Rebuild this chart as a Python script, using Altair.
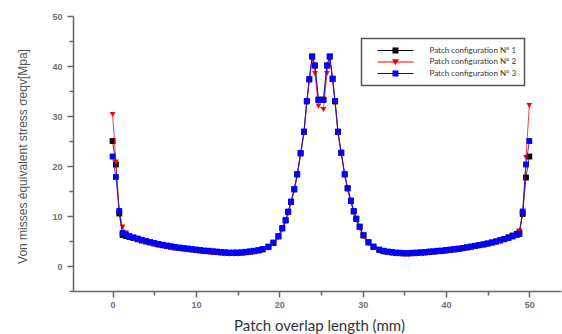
import altair as alt
import pandas as pd

X = [0.0, 0.4, 0.8, 1.2, 1.6, 2.0, 2.5, 3.0, 3.5, 4.0, 4.5, 5.0, 5.5, 6.0, 6.5, 7.0, 7.5, 8.0, 8.5, 9.0,
     9.5, 10.0, 10.5, 11.0, 11.5, 12.0, 12.5, 13.0, 13.5, 14.0, 14.5, 15.0, 15.5, 16.0, 16.5, 17.0, 17.5, 18.0,
     18.7, 19.3, 19.9, 20.36, 20.76, 21.07, 21.4, 21.8, 22.15, 22.56, 22.96, 23.3, 23.6, 23.95, 24.28, 24.7,
     25.3, 25.72, 26.05, 26.4, 26.7, 27.04, 27.44, 27.85, 28.2, 28.6, 28.93, 29.24, 29.64, 30.1, 30.7, 31.3,
     32.0, 32.5, 33.0, 33.5, 34.0, 34.5, 35.0, 35.5, 36.0, 36.5, 37.0, 37.5, 38.0, 38.5, 39.0, 39.5, 40.0,
     40.5, 41.0, 41.5, 42.0, 42.5, 43.0, 43.5, 44.0, 44.5, 45.0, 45.5, 46.0, 46.5, 47.0, 47.5, 48.0, 48.5,
     48.8, 49.2, 49.6, 50.0]

S1 = [25.0, 20.3, 10.5, 6.2, 6.0, 5.8, 5.6, 5.35, 5.1, 4.9, 4.7, 4.5, 4.3, 4.15, 4.0, 3.85, 3.7, 3.6, 3.5, 3.4,
      3.3, 3.2, 3.1, 3.0, 2.95, 2.85, 2.8, 2.7, 2.65, 2.6, 2.6, 2.6, 2.65, 2.75, 2.85, 2.95, 3.1, 3.3,
      3.8, 4.6, 5.9, 7.5, 9.1, 10.8, 12.8, 15.3, 18.3, 22.5, 26.8, 32.9, 37.3, 41.9, 40.1, 33.3,
      33.3, 40.1, 41.9, 37.4, 32.9, 26.8, 22.6, 18.3, 15.5, 13.0, 10.9, 9.4, 7.8, 6.1, 4.7, 3.8,
      3.2, 2.95, 2.8, 2.7, 2.6, 2.55, 2.5, 2.5, 2.55, 2.6, 2.65, 2.7, 2.8, 2.85, 2.95, 3.0, 3.1,
      3.2, 3.3, 3.4, 3.55, 3.7, 3.85, 4.0, 4.15, 4.3, 4.5, 4.7, 4.9, 5.15, 5.4, 5.75, 6.1, 6.4,
      6.7, 10.4, 17.7, 21.9]

S2 = [30.3, 20.8, 10.8, 7.8, 6.6, 6.0, 5.4, 5.1, 4.85, 4.65, 4.45, 4.25, 4.05, 3.9, 3.75, 3.6, 3.45, 3.35, 3.25, 3.15,
      3.05, 2.95, 2.85, 2.75, 2.7, 2.6, 2.55, 2.45, 2.4, 2.35, 2.35, 2.35, 2.4, 2.5, 2.6, 2.7, 2.85, 3.05,
      3.55, 4.35, 5.6, 7.2, 8.8, 10.5, 12.5, 15.0, 18.0, 22.2, 26.5, 32.5, 37.0, 41.5, 38.5, 32.0,
      31.3, 38.5, 41.5, 37.0, 32.5, 26.5, 22.3, 18.0, 15.2, 12.7, 10.6, 9.1, 7.5, 5.8, 4.45, 3.55,
      2.95, 2.7, 2.55, 2.45, 2.35, 2.3, 2.25, 2.25, 2.3, 2.35, 2.4, 2.45, 2.55, 2.6, 2.7, 2.75, 2.85,
      2.95, 3.05, 3.15, 3.3, 3.45, 3.6, 3.75, 3.9, 4.05, 4.25, 4.45, 4.65, 4.9, 5.2, 5.55, 5.9, 6.3,
      7.0, 10.5, 21.7, 32.1]

S3 = [21.9, 17.8, 11.0, 6.6, 6.3, 6.0, 5.75, 5.5, 5.25, 5.0, 4.8, 4.6, 4.4, 4.25, 4.1, 3.95, 3.8, 3.7, 3.6, 3.5,
      3.4, 3.3, 3.2, 3.1, 3.05, 2.95, 2.9, 2.8, 2.75, 2.7, 2.7, 2.7, 2.75, 2.85, 2.95, 3.05, 3.2, 3.4,
      3.9, 4.7, 6.0, 7.6, 9.2, 10.9, 12.9, 15.4, 18.4, 22.6, 26.9, 33.0, 37.4, 41.9, 40.1, 33.2,
      33.2, 40.1, 41.9, 37.5, 33.0, 26.9, 22.7, 18.4, 15.6, 13.1, 11.0, 9.5, 7.9, 6.2, 4.8, 3.9,
      3.3, 3.05, 2.9, 2.8, 2.7, 2.65, 2.6, 2.6, 2.65, 2.7, 2.75, 2.8, 2.9, 2.95, 3.05, 3.1, 3.2,
      3.3, 3.4, 3.5, 3.6, 3.75, 3.9, 4.05, 4.2, 4.35, 4.5, 4.7, 4.9, 5.1, 5.35, 5.6, 5.9, 6.2,
      6.4, 10.9, 20.3, 25.0]

LABELS = ["Patch configuration N° 1", "Patch configuration N° 2", "Patch configuration N° 3"]
MARKER_KEYS = ["m1", "m2", "m3"]
COLORS = ["#000000", "#ff0000", "#0000ff"]
SHAPES = ["square", "triangle-down", "square"]
X_TICKS = [0, 5, 10, 15, 20, 25, 30, 35, 40, 45, 50]
Y_TICKS = [-5, 0, 5, 10, 15, 20, 25, 30, 35, 40, 45, 50]

rows = []
for lab, mk, ys in zip(LABELS, MARKER_KEYS, [S1, S2, S3]):
    for i, (xv, yv) in enumerate(zip(X, ys)):
        rows.append({"series": lab, "marker": mk, "x": xv, "y": yv, "i": i})
df = pd.DataFrame(rows)

major10 = "datum.value % 10 === 0"

xenc = alt.X(
    "x:Q",
    scale=alt.Scale(domain=[-4.75, 53.8], nice=False, zero=False),
    axis=alt.Axis(
        values=X_TICKS,
        labelExpr=f"{major10} ? datum.label : ''",
        tickSize={"condition": {"test": major10, "value": 6}, "value": 4},
        grid=False,
        domainColor="#666666", domainWidth=1.5,
        tickColor="#666666", tickWidth=1.5,
        labelFont="Liberation Sans", labelFontSize=9, labelFontWeight="bold",
        labelColor="#707070", labelPadding=3,
        title="Patch overlap length (mm)",
        titleFont="Lato", titleFontSize=15, titleFontWeight="normal",
        titleColor="#333333", titleX=246, titleY=34,
        titleBaseline="middle", titleAlign="center",
    ),
)

yenc = alt.Y(
    "y:Q",
    scale=alt.Scale(domain=[-5, 50], nice=False, zero=False),
    axis=alt.Axis(
        values=Y_TICKS,
        labelExpr=f"{major10} ? datum.label : ''",
        tickSize={"condition": {"test": major10, "value": 6}, "value": 4},
        grid=False,
        domainColor="#666666", domainWidth=1.5,
        tickColor="#666666", tickWidth=1.5,
        labelFont="Liberation Sans", labelFontSize=9, labelFontWeight="bold",
        labelColor="#707070", labelPadding=5,
        title="Von misses équivalent stress σeqv[Mpa]",
        titleFont="Liberation Sans", titleFontSize=12, titleFontWeight="normal",
        titleColor="#555555", titleX=-51, titleY=140, titleAngle=-90,
        titleBaseline="middle", titleAlign="center",
    ),
)

# legend symbols: a thin bar (the line sample) plus the series marker
sym_shape = (
    "datum.value === 'Patch configuration N° 2' ? "
    "'M-6,-0.2L6,-0.2L6,0.2L-6,0.2ZM-1.2,-0.9L1.2,-0.9L0,1.1Z' : "
    "'M-6,-0.2L6,-0.2L6,0.2L-6,0.2ZM-1,-1L1,-1L1,1L-1,1Z'"
)

legend = alt.Legend(
    title=None,
    orient="none",
    legendX=288.5,
    legendY=22.5,
    direction="vertical",
    strokeColor="#555555",
    padding=8,
    symbolSize=36,
    symbolOffset=22,
    labelOffset=30,
    rowPadding=3.5,
    labelFont="Lato",
    labelFontSize=8,
    labelColor="#333333",
    symbolType=alt.ExprRef(expr=sym_shape),
    symbolFillColor=alt.ExprRef(expr="scale('color', datum.value)"),
    symbolStrokeColor="transparent",
    symbolStrokeWidth=0,
    symbolOpacity=1,
)

color = alt.Color("series:N", scale=alt.Scale(domain=LABELS, range=COLORS), legend=legend)
shape = alt.Shape("marker:N", scale=alt.Scale(domain=MARKER_KEYS, range=SHAPES), legend=None)

layers = []
for lab in LABELS:
    base = alt.Chart(df).transform_filter(alt.datum.series == lab)
    line = base.mark_line(strokeWidth=1, opacity=0.75).encode(
        x=xenc, y=yenc, color=color, order=alt.Order("i:Q"))
    pts = base.mark_point(filled=True, size=34, opacity=1).encode(
        x=xenc, y=yenc, color=color, shape=shape)
    layers += [line, pts]

chart = alt.layer(*layers).properties(
    width=488,
    height=275,
    autosize=alt.AutoSizeParams(type="none"),
    padding={"left": 73, "top": 16, "right": 1, "bottom": 43},
).configure_view(stroke=None).configure_legend(strokeWidth=1.5)

chart.save("out.html", embed_options={"renderer": "svg", "actions": False})
